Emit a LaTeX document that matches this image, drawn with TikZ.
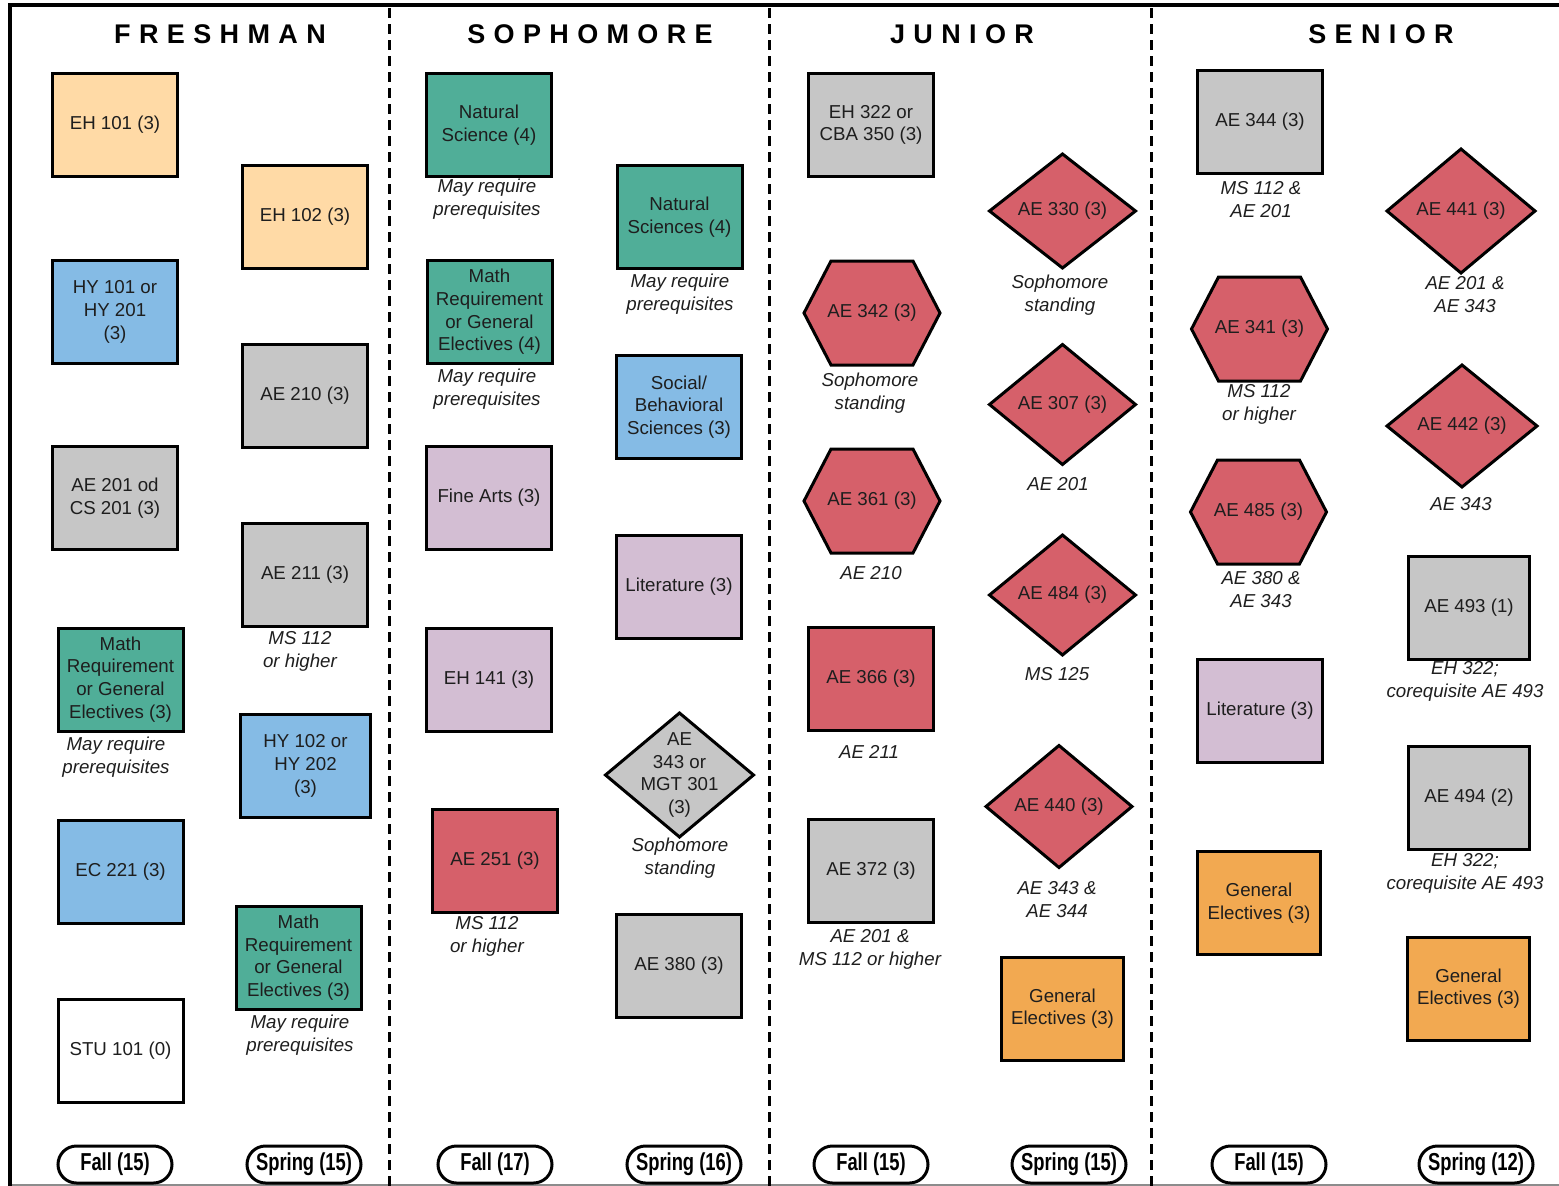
\documentclass[tikz,border=0pt]{standalone}
\usepackage{fontspec}
\setmainfont{Liberation Sans}
\newfontfamily\hdrfont[LetterSpace=31]{Liberation Sans}
\newfontfamily\ovalfont[FakeStretch=0.75]{Liberation Sans}
\usetikzlibrary{shapes.misc}
\definecolor{cOrL}{HTML}{FFDAA6}
\definecolor{cBlue}{HTML}{85BBE5}
\definecolor{cGray}{HTML}{C6C6C6}
\definecolor{cTeal}{HTML}{50AE98}
\definecolor{cPurp}{HTML}{D3BED3}
\definecolor{cRed}{HTML}{D6606A}
\definecolor{cOrg}{HTML}{F2A951}
\definecolor{cTxt}{HTML}{1E1E1E}
\newcommand\hexa[5]{%
  \draw[shp, fill=#4] ({#2-68},{#3}) -- ({#2-41},{#3-52}) -- ({#2+41},{#3-52}) -- ({#2+68},{#3}) -- ({#2+41},{#3+52}) -- ({#2-41},{#3+52}) -- cycle;
  \node[txt] (#1) at (#2,#3) {#5};}
\newcommand\diam[7]{%
  \draw[shp, fill=#6] ({#2-#4},{#3}) -- ({#2},{#3-#5}) -- ({#2+#4},{#3}) -- ({#2},{#3+#5}) -- cycle;
  \node[txt] (#1) at (#2,#3) {#7};}
\begin{document}
\begin{tikzpicture}[x=1pt,y=-1pt,
  box/.style={draw=black, line width=3pt, minimum width=125pt, minimum height=103pt, inner sep=2pt, align=center, text=cTxt, font=\fontsize{18.7}{22.7}\selectfont},
  req/.style={align=center, text=cTxt, font=\itshape\fontsize{18.7}{23}\selectfont, inner sep=0pt},
  shp/.style={draw=black, line width=3pt, line join=miter},
  txt/.style={align=center, text=cTxt, font=\fontsize{18.7}{22.7}\selectfont, inner sep=0pt},
  sem/.style={draw=black, rounded rectangle, line width=3pt, minimum width=114pt, minimum height=37pt, inner sep=0pt, font=\ovalfont\bfseries\fontsize{24.5}{27}\selectfont},
  hdr/.style={font=\hdrfont\bfseries\fontsize{27}{30}\selectfont, inner sep=0pt}]
\useasboundingbox (0,0) rectangle (1559,1186);
% frame
\draw[black!45, line width=1.5pt] (10,1185) -- (1559,1185);
\draw[line width=4pt] (10,1186) -- (10,5) -- (1559,5);
\foreach \xx in {389.5,769,1151}
  \draw[line width=3pt, dash pattern=on 10pt off 6pt] (\xx,8) -- (\xx,1186);
% headers
\node[hdr] (hfr) at (220,34) {FRESHMAN};
\node[hdr] (hso) at (590,34) {SOPHOMORE};
\node[hdr] (hju) at (962,34) {JUNIOR};
\node[hdr] (hse) at (1381,34) {SENIOR};
% freshman fall
\node[box, fill=cOrL] (eh101) at (115,125) {EH 101 (3)};
\node[box, fill=cBlue] (hy101) at (115,312) {HY 101 or\\HY 201\\(3)};
\node[box, fill=cGray] (ae201) at (115,498) {AE 201 od\\CS 201 (3)};
\node[box, fill=cTeal] (mathf1) at (120.5,679.5) {Math\\Requirement\\or General\\Electives (3)};
\node[req] (mathf1r) at (116,757.5) {May require\\prerequisites};
\node[box, fill=cBlue] (ec221) at (120.5,871.5) {EC 221 (3)};
\node[box, fill=white] (stu101) at (120.5,1050.5) {STU 101 (0)};
% freshman spring
\node[box, fill=cOrL] (eh102) at (305,217) {EH 102 (3)};
\node[box, fill=cGray] (ae210) at (305,396) {AE 210 (3)};
\node[box, fill=cGray] (ae211) at (305,575) {AE 211 (3)};
\node[req] (ae211r) at (300,651.5) {MS 112\\or higher};
\node[box, fill=cBlue, minimum width=130pt] (hy102) at (305.5,766) {HY 102 or\\HY 202\\(3)};
\node[box, fill=cTeal] (mathf2) at (298.5,957.5) {Math\\Requirement\\or General\\Electives (3)};
\node[req] (mathf2r) at (300,1035.5) {May require\\prerequisites};
% sophomore fall
\node[box, fill=cTeal] (natsci) at (489,125) {Natural\\Science (4)};
\node[req] (natscir) at (487,199.5) {May require\\prerequisites};
\node[box, fill=cTeal] (maths) at (489.5,312) {Math\\Requirement\\or General\\Electives (4)};
\node[req] (mathsr) at (487,389.5) {May require\\prerequisites};
\node[box, fill=cPurp] (finearts) at (489,498) {Fine Arts (3)};
\node[box, fill=cPurp] (eh141) at (489,679.5) {EH 141 (3)};
\node[box, fill=cRed] (ae251) at (495,861) {AE 251 (3)};
\node[req] (ae251r) at (487,936.5) {MS 112\\or higher};
% sophomore spring
\node[box, fill=cTeal] (natsci2) at (679.5,217) {Natural\\Sciences (4)};
\node[req] (natsci2r) at (680,294.5) {May require\\prerequisites};
\node[box, fill=cBlue] (social) at (679,407) {Social/\\Behavioral\\Sciences (3)};
\node[box, fill=cPurp] (lit1) at (679,587) {Literature (3)};
\diam{ae343}{679.5}{775}{74}{62}{cGray}{AE\\343 or\\MGT 301\\(3)}
\node[req] (ae343r) at (680,858.5) {Sophomore\\standing};
\node[box, fill=cGray] (ae380) at (679,966) {AE 380 (3)};
% junior fall
\node[box, fill=cGray] (eh322) at (871,125) {EH 322 or\\CBA 350 (3)};
\hexa{ae342}{872}{313}{cRed}{AE 342 (3)}
\node[req] (ae342r) at (870,393.5) {Sophomore\\standing};
\hexa{ae361}{872}{501}{cRed}{AE 361 (3)}
\node[req] (ae361r) at (871,573) {AE 210};
\node[box, fill=cRed] (ae366) at (871,679) {AE 366 (3)};
\node[req] (ae366r) at (869,752) {AE 211};
\node[box, fill=cGray] (ae372) at (871,871) {AE 372 (3)};
\node[req] (ae372r) at (870,949.5) {AE 201 \&\\MS 112 or higher};
% junior spring
\diam{ae330}{1062.5}{211}{73}{57}{cRed}{AE 330 (3)}
\node[req] (ae330r) at (1060,295) {Sophomore\\standing};
\diam{ae307}{1062.5}{404.5}{73}{60}{cRed}{AE 307 (3)}
\node[req] (ae307r) at (1058,484) {AE 201};
\diam{ae484}{1062.5}{595}{73}{60}{cRed}{AE 484 (3)}
\node[req] (ae484r) at (1057,674) {MS 125};
\diam{ae440}{1059}{806.5}{73}{61}{cRed}{AE 440 (3)}
\node[req] (ae440r) at (1057,900) {AE 343 \&\\AE 344};
\node[box, fill=cOrg, minimum width=122pt] (genj) at (1062.5,1008.5) {General\\Electives (3)};
% senior fall
\node[box, fill=cGray] (ae344) at (1260,122) {AE 344 (3)};
\node[req] (ae344r) at (1261,199.5) {MS 112 \&\\AE 201};
\hexa{ae341}{1259.5}{329}{cRed}{AE 341 (3)}
\node[req] (ae341r) at (1259,404) {MS 112\\or higher};
\hexa{ae485}{1258.5}{512}{cRed}{AE 485 (3)}
\node[req] (ae485r) at (1261,590) {AE 380 \&\\AE 343};
\node[box, fill=cPurp] (lit2) at (1260,711) {Literature (3)};
\node[box, fill=cOrg, minimum width=123pt] (gens) at (1259,903) {General\\Electives (3)};
% senior spring
\diam{ae441}{1461}{211}{74}{62}{cRed}{AE 441 (3)}
\node[req] (ae441r) at (1465,295) {AE 201 \&\\AE 343};
\diam{ae442}{1462}{426}{75}{61}{cRed}{AE 442 (3)}
\node[req] (ae442r) at (1461,504) {AE 343};
\node[box, fill=cGray, minimum width=121pt] (ae493) at (1469,607.5) {AE 493 (1)};
\node[req] (ae493r) at (1465,681.5) {EH 322;\\corequisite AE 493};
\node[box, fill=cGray, minimum width=121pt] (ae494) at (1469,797.5) {AE 494 (2)};
\node[req] (ae494r) at (1465,873.5) {EH 322;\\corequisite AE 493};
\node[box, fill=cOrg, minimum width=122pt] (gens2) at (1468.5,988.5) {General\\Electives (3)};
% semester ovals
\node[sem] (s1) at (115,1164.5) {Fall (15)};
\node[sem] (s2) at (304,1164.5) {Spring (15)};
\node[sem] (s3) at (495,1164.5) {Fall (17)};
\node[sem] (s4) at (684,1164.5) {Spring (16)};
\node[sem] (s5) at (871,1164.5) {Fall (15)};
\node[sem] (s6) at (1069,1164.5) {Spring (15)};
\node[sem] (s7) at (1269,1164.5) {Fall (15)};
\node[sem] (s8) at (1476,1164.5) {Spring (12)};
\end{tikzpicture}
\end{document}
